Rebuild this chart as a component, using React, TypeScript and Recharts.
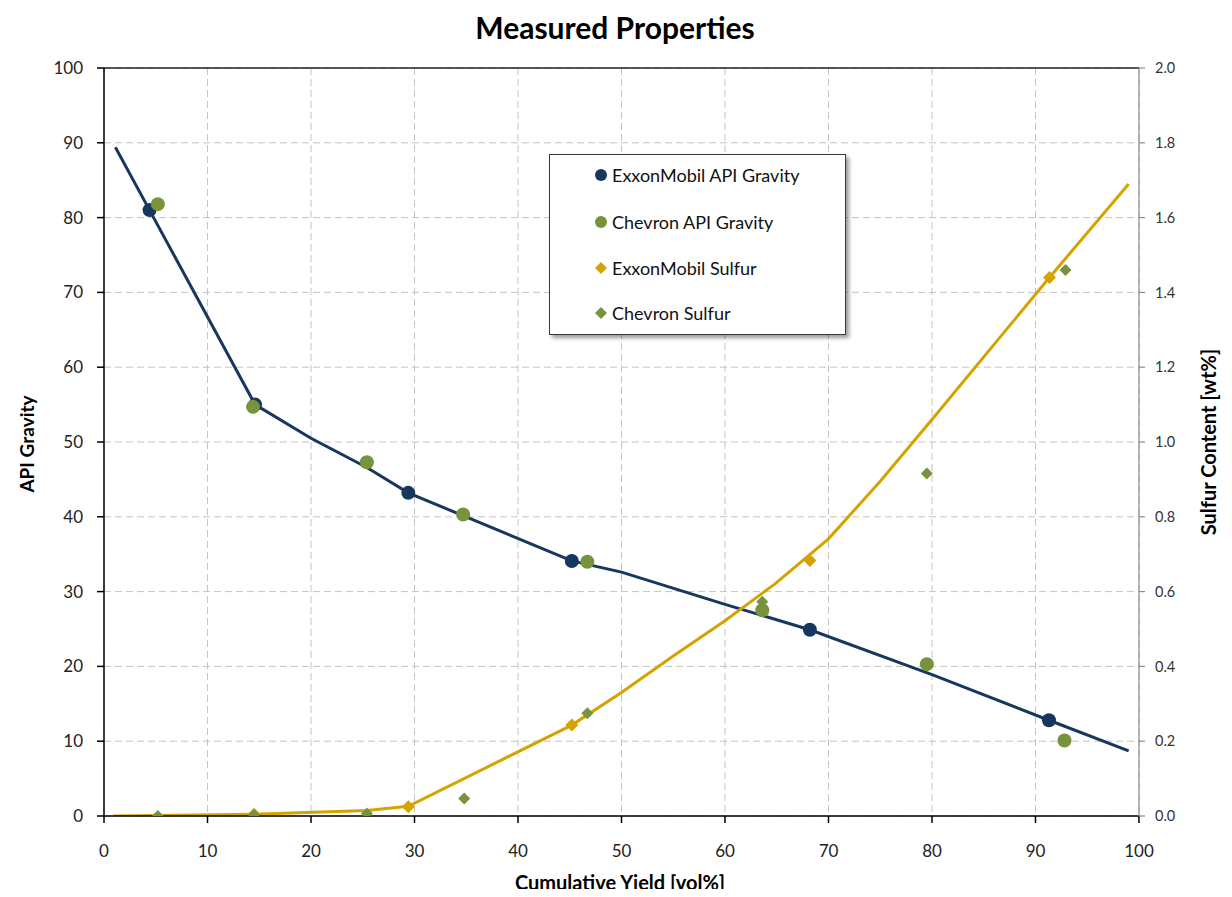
import React from 'react';
import {
  ComposedChart, Line, Scatter, XAxis, YAxis, CartesianGrid, Legend, ReferenceLine, Customized,
} from 'recharts';

// ---- data ----
const exxonApiX = [4.4, 14.6, 29.4, 45.2, 68.2, 91.3];
const exxonApiY = [81.0, 55.0, 43.2, 34.1, 24.9, 12.8];

const chevronApiX = [5.2, 14.4, 25.4, 34.7, 46.7, 63.6, 79.5, 92.8];
const chevronApiY = [81.8, 54.7, 47.3, 40.3, 34.0, 27.5, 20.3, 10.1];

const exxonSulfurX = [14.5, 29.4, 45.2, 68.2, 91.35];
const exxonSulfurY = [0.005, 0.025, 0.243, 0.683, 1.44];

const chevronSulfurX = [5.2, 14.5, 25.4, 34.8, 46.7, 63.6, 63.6, 79.5, 92.9];
const chevronSulfurY = [0.0, 0.003, 0.007, 0.047, 0.275, 0.573, 0.55, 0.916, 1.46];

const apiCurveX = [1.1, 4.4, 14.6, 20, 25.4, 29.4, 45.2, 50, 60, 68.2, 80, 91.3, 99];
const apiCurveY = [89.4, 81.0, 55.0, 50.5, 46.6, 43.2, 34.1, 32.6, 28.3, 24.9, 18.9, 12.8, 8.7];

const sulfurCurveX = [0.9, 14.5, 25.4, 29.4, 45.2, 50, 55, 60, 64.8, 70, 75, 80, 91.35, 99];
const sulfurCurveY = [0.0, 0.005, 0.015, 0.026, 0.243, 0.33, 0.428, 0.522, 0.62, 0.741, 0.895, 1.06, 1.44, 1.69];

const xTicks = [0, 10, 20, 30, 40, 50, 60, 70, 80, 90, 100];
const xMinorTicks = Array.from({ length: 51 }, (_, i) => i * 2);
const leftTicks = [0, 10, 20, 30, 40, 50, 60, 70, 80, 90, 100];
const leftMinorTicks = Array.from({ length: 51 }, (_, i) => i * 2);
const rightTicks = [0, 0.2, 0.4, 0.6, 0.8, 1.0, 1.2, 1.4, 1.6, 1.8, 2.0];

const seriesNames = ['ExxonMobil API Gravity', 'Chevron API Gravity', 'ExxonMobil Sulfur', 'Chevron Sulfur'];

const NAVY = '#17375E';
const GREEN = '#77933C';
const GOLD = '#D5A300';
const seriesColors = [NAVY, GREEN, GOLD, GREEN];
const seriesShapes = ['circle', 'circle', 'diamond', 'diamond'];

const zip = (xs: number[], ys: number[]) => xs.map((x, i) => ({ x, y: ys[i] }));

const FONT = 'Lato, "Noto Sans", sans-serif';

const circleShape = (color: string, r: number) => (props: any) => (
  <circle cx={props.cx} cy={props.cy} r={r} fill={color} />
);
const diamondShape = (color: string, s: number) => (props: any) => {
  const { cx, cy } = props;
  return <polygon points={`${cx},${cy - s} ${cx + s},${cy} ${cx},${cy + s} ${cx - s},${cy}`} fill={color} />;
};

const LegendBox = () => (
  <div
    style={{
      width: 297, height: 181, boxSizing: 'border-box', border: '1.5px solid #3a3a3a',
      background: '#fff', boxShadow: '3px 3px 4px rgba(0,0,0,0.4)', position: 'relative',
      fontFamily: FONT, fontSize: 18, color: '#111',
    }}
  >
    {seriesNames.map((name, i) => {
      const top = [20, 67, 113, 158][i];
      return (
        <div key={name} style={{ position: 'absolute', left: 0, top: top - 12, height: 24, width: '100%' }}>
          <svg width={14} height={14} style={{ position: 'absolute', left: 44, top: 5 }}>
            {seriesShapes[i] === 'circle'
              ? <circle cx={7} cy={7} r={6} fill={seriesColors[i]} />
              : <polygon points="7,1 13,7 7,13 1,7" fill={seriesColors[i]} />}
          </svg>
          <span style={{ position: 'absolute', left: 62, top: 0, lineHeight: '24px', whiteSpace: 'nowrap' }}>{name}</span>
        </div>
      );
    })}
  </div>
);

const Titles = () => (
  <g fontFamily={FONT} fontWeight="bold" fill="#000">
    <text x={607} y={19} textAnchor="middle" dominantBaseline="central" fontSize={30}>Measured Properties</text>
    <text x={612} y={874} textAnchor="middle" dominantBaseline="central" fontSize={20}>Cumulative Yield [vol%]</text>
    <text x={18} y={436} textAnchor="middle" dominantBaseline="central" fontSize={19} transform="rotate(-90 18 436)">API Gravity</text>
    <text x={1200} y={434} textAnchor="middle" dominantBaseline="central" fontSize={20} transform="rotate(-90 1200 434)">Sulfur Content [wt%]</text>
  </g>
);

export default function App() {
  return (
    <div style={{ width: 1216, height: 881 }}>
      <ComposedChart
        width={1216}
        height={889}
        margin={{ top: 60, right: 0, bottom: 8, left: 0 }}
        style={{ fontFamily: FONT }}
      >
        <CartesianGrid
          xAxisId="x"
          yAxisId="left"
          stroke="#c4c4c4"
          strokeDasharray="7 4"
          verticalValues={xTicks}
          horizontalValues={leftTicks}
        />
        <XAxis
          xAxisId="x"
          dataKey="x"
          type="number"
          domain={[0, 100]}
          ticks={xTicks}
          allowDataOverflow
          height={73}
          tickSize={7}
          tickMargin={22}
          axisLine={{ stroke: '#000', strokeWidth: 1.5 }}
          tickLine={{ stroke: '#000', strokeWidth: 1.5 }}
          tick={{ fontSize: 17, fill: '#222', fontFamily: FONT }}
        />
        <XAxis
          xAxisId="xm"
          dataKey="x"
          type="number"
          domain={[0, 100]}
          ticks={xMinorTicks}
          allowDataOverflow
          mirror
          tickSize={6}
          tick={false}
          axisLine={false}
          tickLine={{ stroke: '#000', strokeWidth: 1.2 }}
        />
        <YAxis
          yAxisId="left"
          orientation="left"
          type="number"
          domain={[0, 100]}
          ticks={leftTicks}
          allowDataOverflow
          width={96}
          tickSize={7}
          tickMargin={14}
          axisLine={{ stroke: '#000', strokeWidth: 1.5 }}
          tickLine={{ stroke: '#000', strokeWidth: 1.5 }}
          tick={{ fontSize: 17, fill: '#222', fontFamily: FONT }}
        />
        <YAxis
          yAxisId="lm"
          orientation="left"
          type="number"
          domain={[0, 100]}
          ticks={leftMinorTicks}
          allowDataOverflow
          mirror
          tickSize={6}
          tick={false}
          axisLine={false}
          tickLine={{ stroke: '#000', strokeWidth: 1.2 }}
        />
        <YAxis
          yAxisId="right"
          orientation="right"
          type="number"
          domain={[0, 2]}
          ticks={rightTicks}
          allowDataOverflow
          width={85}
          tickSize={6}
          tickMargin={10}
          tickFormatter={(v: number) => v.toFixed(1)}
          axisLine={{ stroke: '#8c8c8c', strokeWidth: 1.2 }}
          tickLine={{ stroke: '#8c8c8c', strokeWidth: 1.2 }}
          tick={{ fontSize: 14.5, fill: '#333', fontFamily: FONT }}
        />
        <ReferenceLine xAxisId="x" yAxisId="left" y={100} stroke="#222" strokeWidth={1.5} />

        <Line
          xAxisId="x" yAxisId="left" data={zip(apiCurveX, apiCurveY)} dataKey="y" type="linear"
          stroke={NAVY} strokeWidth={3} dot={false} activeDot={false} isAnimationActive={false}
          legendType="none"
        />
        <Scatter
          xAxisId="x" yAxisId="left" name={seriesNames[0]} data={zip(exxonApiX, exxonApiY)} dataKey="y"
          fill={NAVY} shape={circleShape(NAVY, 7)} isAnimationActive={false}
        />
        <Scatter
          xAxisId="x" yAxisId="left" name={seriesNames[1]} data={zip(chevronApiX, chevronApiY)} dataKey="y"
          fill={GREEN} shape={circleShape(GREEN, 7)} isAnimationActive={false}
        />
        <Line
          xAxisId="x" yAxisId="right" data={zip(sulfurCurveX, sulfurCurveY)} dataKey="y" type="linear"
          stroke={GOLD} strokeWidth={3} dot={false} activeDot={false} isAnimationActive={false}
          legendType="none"
        />
        <Scatter
          xAxisId="x" yAxisId="right" name={seriesNames[2]} data={zip(exxonSulfurX, exxonSulfurY)} dataKey="y"
          fill={GOLD} shape={diamondShape(GOLD, 6.5)} isAnimationActive={false}
        />
        <Scatter
          xAxisId="x" yAxisId="right" name={seriesNames[3]} data={zip(chevronSulfurX, chevronSulfurY)} dataKey="y"
          fill={GREEN} shape={diamondShape(GREEN, 6)} isAnimationActive={false}
        />
        <Legend
          layout="vertical"
          align="center"
          verticalAlign="middle"
          wrapperStyle={{ position: 'absolute', left: 541, top: 146, width: 297, height: 181 }}
          content={() => <LegendBox />}
        />
        <Customized component={Titles} />
      </ComposedChart>
    </div>
  );
}
